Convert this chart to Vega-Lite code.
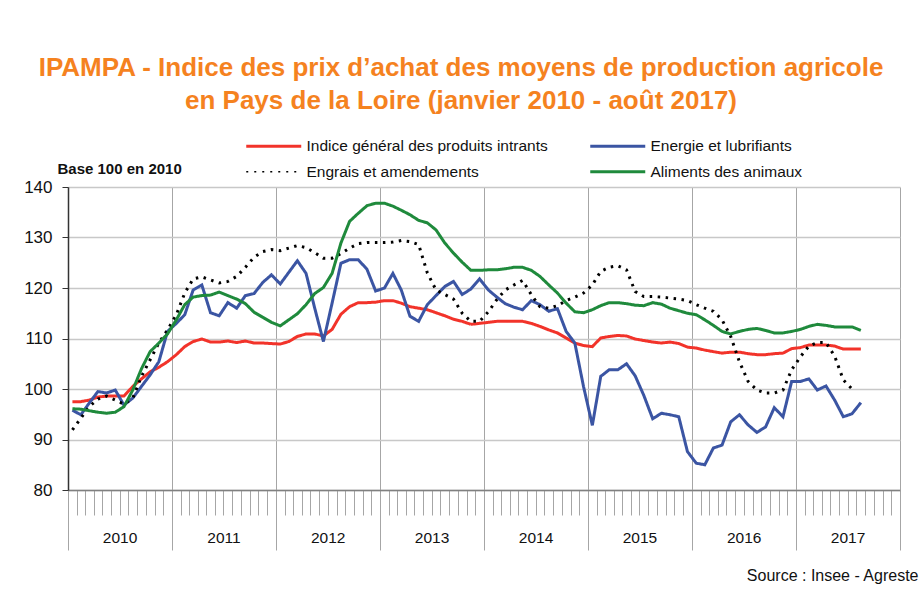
{
  "$schema": "https://vega.github.io/schema/vega-lite/v6.json",
  "width": 832,
  "height": 303,
  "autosize": {"type": "none"},
  "padding": {"left": 68, "top": 187, "right": 20, "bottom": 112},
  "background": "white",
  "config": {
    "font": "Liberation Sans",
    "view": {"stroke": null}
  },
  "title": {
    "text": ["IPAMPA - Indice des prix d’achat des moyens de production agricole", "en Pays de la Loire (janvier 2010 - août 2017)"],
    "color": "#F5821F",
    "font": "Liberation Sans",
    "fontSize": 26,
    "fontWeight": "bold",
    "anchor": "middle",
    "frame": "group",
    "dx": -23,
    "offset": 24,
    "lineHeight": 33
  },
  "data": {
    "values": [
      {"date": "2010-01", "ind": 97.5, "ene": 95.8, "eng": 91.9, "ali": 96.1},
      {"date": "2010-02", "ind": 97.5, "ene": 94.9, "eng": 94.2, "ali": 96.0},
      {"date": "2010-03", "ind": 97.8, "ene": 97.2, "eng": 96.5, "ali": 95.7},
      {"date": "2010-04", "ind": 98.4, "ene": 99.5, "eng": 98.0, "ali": 95.4},
      {"date": "2010-05", "ind": 98.6, "ene": 99.2, "eng": 98.6, "ali": 95.2},
      {"date": "2010-06", "ind": 98.6, "ene": 99.8, "eng": 97.8, "ali": 95.4},
      {"date": "2010-07", "ind": 98.6, "ene": 96.8, "eng": 97.0, "ali": 96.5},
      {"date": "2010-08", "ind": 100.5, "ene": 98.2, "eng": 98.2, "ali": 99.8},
      {"date": "2010-09", "ind": 102.0, "ene": 100.5, "eng": 102.5, "ali": 104.0},
      {"date": "2010-10", "ind": 103.4, "ene": 102.8, "eng": 105.8, "ali": 107.4},
      {"date": "2010-11", "ind": 104.3, "ene": 105.4, "eng": 109.1, "ali": 109.1},
      {"date": "2010-12", "ind": 105.4, "ene": 111.4, "eng": 111.7, "ali": 110.9},
      {"date": "2011-01", "ind": 106.8, "ene": 113.0, "eng": 114.7, "ali": 113.7},
      {"date": "2011-02", "ind": 108.4, "ene": 114.7, "eng": 119.0, "ali": 116.7},
      {"date": "2011-03", "ind": 109.4, "ene": 119.6, "eng": 121.8, "ali": 118.2},
      {"date": "2011-04", "ind": 109.9, "ene": 120.6, "eng": 122.2, "ali": 118.5},
      {"date": "2011-05", "ind": 109.3, "ene": 115.1, "eng": 121.6, "ali": 118.6},
      {"date": "2011-06", "ind": 109.3, "ene": 114.5, "eng": 121.0, "ali": 119.2},
      {"date": "2011-07", "ind": 109.5, "ene": 117.1, "eng": 121.3, "ali": 118.5},
      {"date": "2011-08", "ind": 109.2, "ene": 116.0, "eng": 122.3, "ali": 117.8},
      {"date": "2011-09", "ind": 109.5, "ene": 118.5, "eng": 124.1, "ali": 116.9},
      {"date": "2011-10", "ind": 109.1, "ene": 118.9, "eng": 126.1, "ali": 115.2},
      {"date": "2011-11", "ind": 109.1, "ene": 121.1, "eng": 127.2, "ali": 114.2},
      {"date": "2011-12", "ind": 109.0, "ene": 122.6, "eng": 127.6, "ali": 113.2},
      {"date": "2012-01", "ind": 108.9, "ene": 120.8, "eng": 127.4, "ali": 112.5},
      {"date": "2012-02", "ind": 109.4, "ene": 123.1, "eng": 127.9, "ali": 113.7},
      {"date": "2012-03", "ind": 110.4, "ene": 125.4, "eng": 128.4, "ali": 114.9},
      {"date": "2012-04", "ind": 110.9, "ene": 122.9, "eng": 128.0, "ali": 116.7},
      {"date": "2012-05", "ind": 110.9, "ene": 116.0, "eng": 127.0, "ali": 118.9},
      {"date": "2012-06", "ind": 110.5, "ene": 109.4, "eng": 125.9, "ali": 120.1},
      {"date": "2012-07", "ind": 111.8, "ene": 117.0, "eng": 125.9, "ali": 122.9},
      {"date": "2012-08", "ind": 114.8, "ene": 124.9, "eng": 126.8, "ali": 128.9},
      {"date": "2012-09", "ind": 116.3, "ene": 125.6, "eng": 127.9, "ali": 133.2},
      {"date": "2012-10", "ind": 117.1, "ene": 125.6, "eng": 128.8, "ali": 134.8},
      {"date": "2012-11", "ind": 117.1, "ene": 123.7, "eng": 129.0, "ali": 136.3},
      {"date": "2012-12", "ind": 117.2, "ene": 119.4, "eng": 129.0, "ali": 136.8},
      {"date": "2013-01", "ind": 117.5, "ene": 120.0, "eng": 129.0, "ali": 136.8},
      {"date": "2013-02", "ind": 117.5, "ene": 122.9, "eng": 129.1, "ali": 136.2},
      {"date": "2013-03", "ind": 117.0, "ene": 119.6, "eng": 129.4, "ali": 135.4},
      {"date": "2013-04", "ind": 116.3, "ene": 114.4, "eng": 129.2, "ali": 134.5},
      {"date": "2013-05", "ind": 116.0, "ene": 113.4, "eng": 128.6, "ali": 133.4},
      {"date": "2013-06", "ind": 115.7, "ene": 116.7, "eng": 123.0, "ali": 132.9},
      {"date": "2013-07", "ind": 115.1, "ene": 118.5, "eng": 119.6, "ali": 131.5},
      {"date": "2013-08", "ind": 114.5, "ene": 120.3, "eng": 118.7, "ali": 128.9},
      {"date": "2013-09", "ind": 113.8, "ene": 121.3, "eng": 117.8, "ali": 126.9},
      {"date": "2013-10", "ind": 113.4, "ene": 118.7, "eng": 115.0, "ali": 125.1},
      {"date": "2013-11", "ind": 112.8, "ene": 119.8, "eng": 113.4, "ali": 123.5},
      {"date": "2013-12", "ind": 113.0, "ene": 121.8, "eng": 113.4, "ali": 123.5},
      {"date": "2014-01", "ind": 113.2, "ene": 119.6, "eng": 115.3, "ali": 123.6},
      {"date": "2014-02", "ind": 113.4, "ene": 118.2, "eng": 117.7, "ali": 123.6},
      {"date": "2014-03", "ind": 113.4, "ene": 116.9, "eng": 119.6, "ali": 123.8},
      {"date": "2014-04", "ind": 113.4, "ene": 116.2, "eng": 120.6, "ali": 124.1},
      {"date": "2014-05", "ind": 113.4, "ene": 115.7, "eng": 121.5, "ali": 124.1},
      {"date": "2014-06", "ind": 113.0, "ene": 117.5, "eng": 118.7, "ali": 123.5},
      {"date": "2014-07", "ind": 112.4, "ene": 116.7, "eng": 116.3, "ali": 122.3},
      {"date": "2014-08", "ind": 111.7, "ene": 115.4, "eng": 116.0, "ali": 120.6},
      {"date": "2014-09", "ind": 111.1, "ene": 115.9, "eng": 116.5, "ali": 119.0},
      {"date": "2014-10", "ind": 110.1, "ene": 111.4, "eng": 117.5, "ali": 117.0},
      {"date": "2014-11", "ind": 109.1, "ene": 109.1, "eng": 118.2, "ali": 115.3},
      {"date": "2014-12", "ind": 108.6, "ene": 100.5, "eng": 119.0, "ali": 115.1},
      {"date": "2015-01", "ind": 108.4, "ene": 92.8, "eng": 120.6, "ali": 115.7},
      {"date": "2015-02", "ind": 110.1, "ene": 102.5, "eng": 123.3, "ali": 116.5},
      {"date": "2015-03", "ind": 110.4, "ene": 103.8, "eng": 124.1, "ali": 117.1},
      {"date": "2015-04", "ind": 110.6, "ene": 103.8, "eng": 124.4, "ali": 117.1},
      {"date": "2015-05", "ind": 110.5, "ene": 105.0, "eng": 123.6, "ali": 116.9},
      {"date": "2015-06", "ind": 109.9, "ene": 102.6, "eng": 119.3, "ali": 116.6},
      {"date": "2015-07", "ind": 109.6, "ene": 98.7, "eng": 118.3, "ali": 116.5},
      {"date": "2015-08", "ind": 109.3, "ene": 94.1, "eng": 118.3, "ali": 117.1},
      {"date": "2015-09", "ind": 109.1, "ene": 95.2, "eng": 118.2, "ali": 116.8},
      {"date": "2015-10", "ind": 109.3, "ene": 94.9, "eng": 118.0, "ali": 116.0},
      {"date": "2015-11", "ind": 109.0, "ene": 94.5, "eng": 117.8, "ali": 115.5},
      {"date": "2015-12", "ind": 108.3, "ene": 87.6, "eng": 117.5, "ali": 115.0},
      {"date": "2016-01", "ind": 108.1, "ene": 85.3, "eng": 116.7, "ali": 114.7},
      {"date": "2016-02", "ind": 107.7, "ene": 85.0, "eng": 116.0, "ali": 113.7},
      {"date": "2016-03", "ind": 107.4, "ene": 88.3, "eng": 115.4, "ali": 112.6},
      {"date": "2016-04", "ind": 107.1, "ene": 88.9, "eng": 113.7, "ali": 111.4},
      {"date": "2016-05", "ind": 107.3, "ene": 93.5, "eng": 110.4, "ali": 110.9},
      {"date": "2016-06", "ind": 107.3, "ene": 94.9, "eng": 105.4, "ali": 111.4},
      {"date": "2016-07", "ind": 107.0, "ene": 92.9, "eng": 101.5, "ali": 111.8},
      {"date": "2016-08", "ind": 106.8, "ene": 91.4, "eng": 99.8, "ali": 112.0},
      {"date": "2016-09", "ind": 106.8, "ene": 92.5, "eng": 99.2, "ali": 111.6},
      {"date": "2016-10", "ind": 107.0, "ene": 96.3, "eng": 99.2, "ali": 111.1},
      {"date": "2016-11", "ind": 107.1, "ene": 94.5, "eng": 99.8, "ali": 111.1},
      {"date": "2016-12", "ind": 108.0, "ene": 101.5, "eng": 103.8, "ali": 111.4},
      {"date": "2017-01", "ind": 108.2, "ene": 101.5, "eng": 106.4, "ali": 111.8},
      {"date": "2017-02", "ind": 108.7, "ene": 102.0, "eng": 108.5, "ali": 112.4},
      {"date": "2017-03", "ind": 108.7, "ene": 99.8, "eng": 109.2, "ali": 112.8},
      {"date": "2017-04", "ind": 108.7, "ene": 100.6, "eng": 109.2, "ali": 112.6},
      {"date": "2017-05", "ind": 108.5, "ene": 97.8, "eng": 106.5, "ali": 112.3},
      {"date": "2017-06", "ind": 107.9, "ene": 94.5, "eng": 101.8, "ali": 112.3},
      {"date": "2017-07", "ind": 107.9, "ene": 95.1, "eng": 100.0, "ali": 112.3},
      {"date": "2017-08", "ind": 107.9, "ene": 97.3, "eng": null, "ali": 111.6}
    ],
    "format": {"parse": {"date": "utc:'%Y-%m'"}}
  },
  "transform": [
    {"fold": ["ind", "ene", "eng", "ali"], "as": ["serie", "v"]}
  ],
  "mark": {"type": "line", "strokeWidth": 3},
  "encoding": {
    "x": {
      "field": "date",
      "type": "temporal",
      "timeUnit": "utcyearmonth",
      "bandPosition": 0.5,
      "scale": {
        "domain": [
          {"year": 2010, "month": 1, "date": 1, "utc": true},
          {"year": 2018, "month": 1, "date": 1, "utc": true}
        ],
        "nice": false
      },
      "axis": {
        "tickCount": {"interval": "month", "step": 1},
        "tickSize": {"condition": {"test": "utcmonth(datum.value) === 0", "value": 60}, "value": 25},
        "tickColor": "#A6A6A6",
        "tickWidth": 1,
        "grid": true,
        "gridColor": "#A6A6A6",
        "gridWidth": 1,
        "gridOpacity": {"condition": {"test": "utcmonth(datum.value) === 0", "value": 1}, "value": 0},
        "domainColor": "#808080",
        "domainWidth": 1.5,
        "labelExpr": "utcmonth(datum.value) === 6 ? '' + utcyear(datum.value) : ''",
        "labelOverlap": false,
        "labelFlush": false,
        "labelBound": false,
        "labelAngle": 0,
        "labelAlign": "center",
        "labelBaseline": "top",
        "labelFontSize": 15.5,
        "labelColor": "#111111",
        "labelPadding": 15,
        "title": "Source : Insee - Agreste",
        "titleX": 850,
        "titleY": 85,
        "titleAlign": "right",
        "titleBaseline": "middle",
        "titleFontSize": 16,
        "titleFontWeight": "normal",
        "titleColor": "#111111"
      }
    },
    "y": {
      "field": "v",
      "type": "quantitative",
      "scale": {"domain": [80, 140], "nice": false, "zero": false},
      "axis": {
        "values": [80, 90, 100, 110, 120, 130, 140],
        "title": "Base 100 en 2010",
        "titleAngle": 0,
        "titleAlign": "left",
        "titleBaseline": "middle",
        "titleX": -11,
        "titleY": -19,
        "titleFontSize": 15,
        "titleFontWeight": "bold",
        "titleColor": "#111111",
        "labelFontSize": 17,
        "labelColor": "#111111",
        "labelPadding": 10,
        "tickSize": 6,
        "tickColor": "#333333",
        "domainColor": "#333333",
        "domainWidth": 1.5,
        "gridColor": "#C8C8C8",
        "gridWidth": 1.5
      }
    },
    "color": {
      "field": "serie",
      "type": "nominal",
      "scale": {
        "domain": ["ind", "ene", "eng", "ali"],
        "range": ["#F2332A", "#3B55A3", "#000000", "#1F8A3C"]
      },
      "legend": {
        "orient": "none",
        "legendX": 198,
        "legendY": -49,
        "columns": 2,
        "direction": "horizontal",
        "title": null,
        "padding": 0,
        "symbolType": "stroke",
        "symbolSize": 3025,
        "symbolStrokeWidth": 3,
        "labelFontSize": 15.5,
        "labelColor": "#111111",
        "labelOffset": 25,
        "labelLimit": 400,
        "columnPadding": 36,
        "rowPadding": 9,
        "labelExpr": "datum.label === 'ind' ? 'Indice général des produits intrants' : datum.label === 'ene' ? 'Energie et lubrifiants' : datum.label === 'eng' ? 'Engrais et amendements' : 'Aliments des animaux'",
        "encode": {
          "symbols": {
            "update": {
              "strokeDash": {"signal": "datum.value === 'eng' ? [2, 6] : [1, 0]"},
              "strokeWidth": {"signal": "datum.value === 'eng' ? 1.5 : 3"}
            }
          }
        }
      }
    },
    "strokeDash": {
      "condition": {"test": "datum.serie === 'eng'", "value": [2.5, 5.5]},
      "value": [1, 0]
    },
    "strokeWidth": {
      "condition": {"test": "datum.serie === 'eng'", "value": 1.6},
      "value": 3
    }
  }
}
